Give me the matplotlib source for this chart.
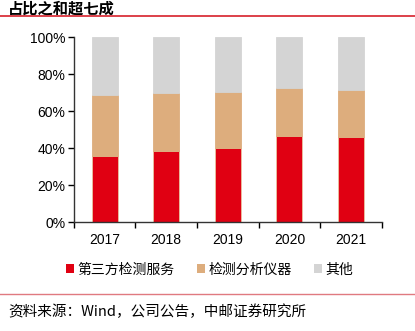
import numpy as np
import matplotlib.pyplot as plt
from matplotlib.lines import Line2D
from matplotlib.patches import Patch

plt.rcParams['font.family'] = ['Liberation Sans', 'Noto Sans CJK SC', 'DejaVu Sans']

# 数据 ---------------------------------------------------
years = ['2017', '2018', '2019', '2020', '2021']
testing_service = [35.8, 38.2, 39.8, 46.3, 45.9]      # 第三方检测服务
instruments = [32.7, 31.5, 30.3, 26.0, 25.3]          # 检测分析仪器
others = [31.5, 30.3, 29.9, 27.7, 28.8]               # 其他
series_names = ['第三方检测服务', '检测分析仪器', '其他']
colors = ['#E00012', '#DDAD7D', '#D4D4D4']

# 作图 ---------------------------------------------------
fig = plt.figure(figsize=(4.15, 3.31), dpi=100)
ax = fig.add_axes([0.178, 0.329, 0.742, 0.559])

x = np.arange(len(years))
w = 0.42
bottom = np.zeros(len(years))
for vals, c in zip([testing_service, instruments, others], colors):
    ax.bar(x, vals, w, bottom=bottom, color=c, edgecolor='#E8C4A0' if c == colors[0] else c,
           linewidth=0.6, zorder=2)
    bottom += np.array(vals)

ax.set_xlim(-0.5, len(years) - 0.5)
ax.set_ylim(0, 100)
ax.set_yticks(np.arange(0, 101, 20))
ax.set_yticklabels([f'{v}%' for v in range(0, 101, 20)], fontsize=10)
ax.set_xticks(x)
ax.set_xticklabels(years, fontsize=10)
ax.set_xticks(np.arange(-0.5, len(years)), minor=True)
ax.tick_params(axis='x', which='major', length=0, pad=8)
ax.tick_params(axis='x', which='minor', length=4, width=1, direction='out')
ax.tick_params(axis='y', length=4, width=1, direction='out', pad=2)
for s in ['top', 'right']:
    ax.spines[s].set_visible(False)
for s in ['left', 'bottom']:
    ax.spines[s].set_color('#333333')
    ax.spines[s].set_linewidth(1)

handles = [Patch(facecolor=c, edgecolor='none') for c in colors]
fig.legend(handles, series_names, loc='center', bbox_to_anchor=(0.505, 0.185), ncol=3,
           frameon=False, handlelength=0.6, handleheight=0.6,
           handletextpad=0.25, columnspacing=1.6,
           prop={'family': ['Noto Sans CJK SC'], 'size': 10})

# 标题与来源
fig.text(0.02, 0.974, '占比之和超七成', fontsize=11, fontweight='bold',
         family=['Noto Sans CJK SC'], va='center', ha='left')
fig.add_artist(Line2D([0, 1], [0.951, 0.951], color='#D7202B', linewidth=1.2))
fig.add_artist(Line2D([0, 1], [0.111, 0.111], color='#E07A80', linewidth=1.0))
fig.text(0.02, 0.059, '资料来源：Wind，公司公告，中邮证券研究所', fontsize=10.5,
         family=['Noto Sans CJK SC'], va='center', ha='left')

fig.savefig('out.png', dpi=100)
